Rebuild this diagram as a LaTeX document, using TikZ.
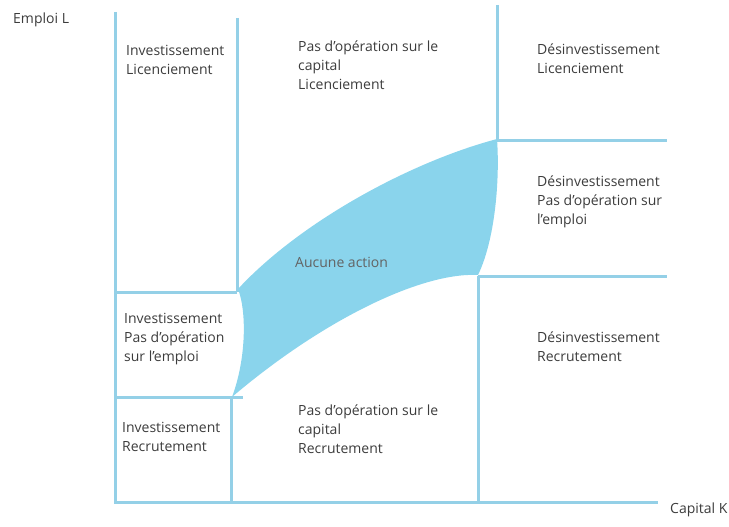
\documentclass[tikz,border=0pt]{standalone}
\usepackage{fontspec}
\setmainfont{Open Sans}
\usepackage{tikz}
\usetikzlibrary{positioning}
\definecolor{lineBlue}{RGB}{148,208,231}
\definecolor{zoneBlue}{RGB}{138,212,236}
\definecolor{labelGray}{RGB}{60,60,60}
\tikzstyle{cell} = [anchor=north west, align=left, inner sep=0pt,
    text=labelGray, font=\fontsize{14}{19}\selectfont]
\tikzstyle{axislabel} = [anchor=west, inner sep=0pt,
    text=labelGray, font=\fontsize{14}{19}\selectfont]
\tikzstyle{grid} = [draw=lineBlue, line width=3pt]

\begin{document}
\begin{tikzpicture}[x=1pt, y=-1pt]
    \useasboundingbox (0,0) rectangle (729,527);
    % axes and zone borders
    \draw [grid] (115,12) -- (115,502) -- (658,502);
    \draw [grid] (237,18) -- (237,292);
    \draw [grid] (115,292) -- (237,292);
    \draw [grid] (115,397) -- (243,397);
    \draw [grid] (231,397) -- (231,502);
    \draw [grid] (497,5) -- (497,140) -- (667,140);
    \draw [grid] (478,276) -- (667,276);
    \draw [grid] (478,276) -- (478,502);
    % zone without action
    \coordinate (topCorner) at (497,139);
    \coordinate (rightCorner) at (478,275);
    \coordinate (lowCorner) at (232,397);
    \coordinate (leftCorner) at (238,289);
    \fill [zoneBlue] (topCorner) .. controls (500,180) and (495,240) .. (rightCorner)
        .. controls (420,272) and (320,322) .. (lowCorner)
        .. controls (246,360) and (247,312) .. (leftCorner)
        .. controls (300,222) and (410,162) .. (topCorner) -- cycle;
    \node [axislabel, text=labelGray!80] (noAction) at (295,262) {Aucune action};
    % axis labels
    \node [axislabel] (emploiL) at (13,20) {Emploi L};
    \node [axislabel] (capitalK) at (670,510) {Capital K};
    % zone labels
    \node [cell] (invLic) at (126,45) {Investissement\\Licenciement};
    \node [cell] (pasLic) at (298,41) {Pas d'opération sur le\\capital\\Licenciement};
    \node [cell] (desLic) at (537,44) {Désinvestissement\\Licenciement};
    \node [cell] (desPas) at (537,176) {Désinvestissement\\Pas d'opération sur\\l'emploi};
    \node [cell] (invPas) at (124,313) {Investissement\\Pas d'opération\\sur l'emploi};
    \node [cell] (desRec) at (537,332) {Désinvestissement\\Recrutement};
    \node [cell] (invRec) at (122,422) {Investissement\\Recrutement};
    \node [cell] (pasRec) at (298,405) {Pas d'opération sur le\\capital\\Recrutement};
\end{tikzpicture}
\end{document}
